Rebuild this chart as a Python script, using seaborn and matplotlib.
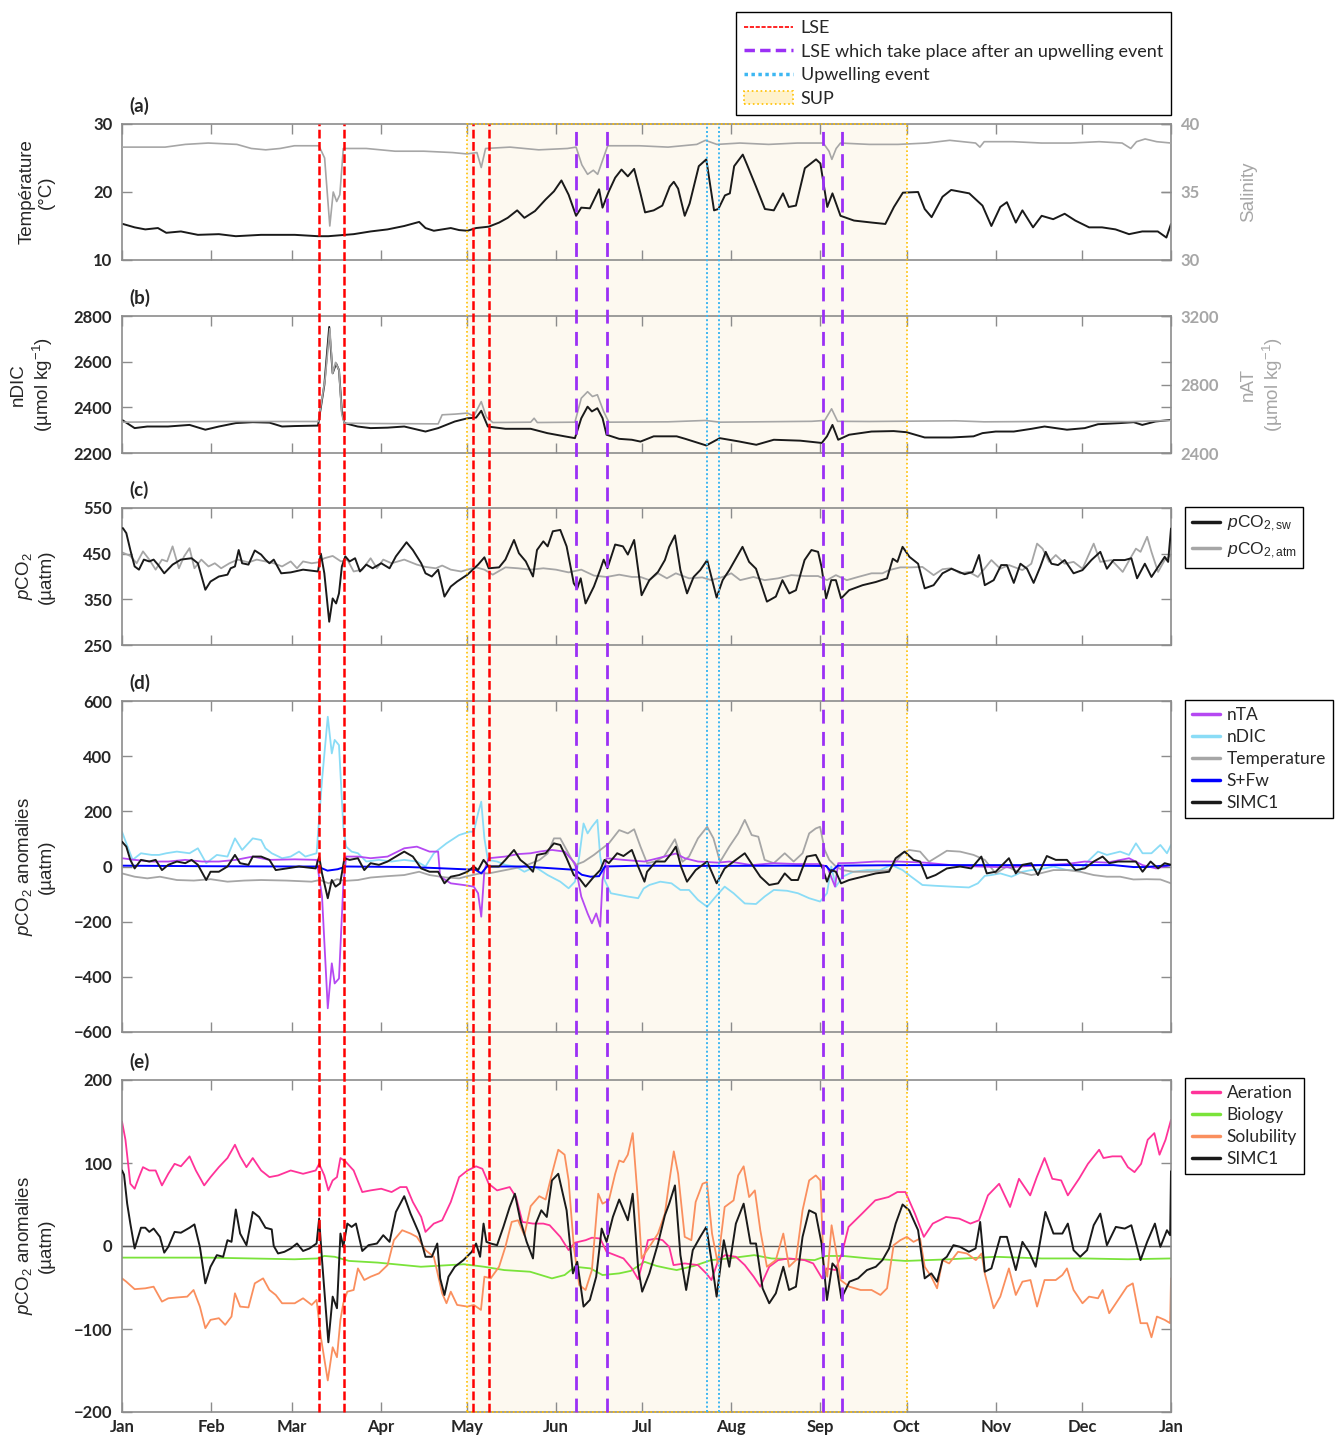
import matplotlib
matplotlib.use("Agg")
import matplotlib.pyplot as plt
import matplotlib.transforms as mtransforms
from matplotlib.lines import Line2D
from matplotlib.patches import Rectangle, Patch
import seaborn as sns

# ---- time axis (day of year) ----
MONTH_DAYS = [0, 31, 59, 90, 120, 151, 181, 212, 243, 273, 304, 334, 365]
MONTH_LABELS = ["Jan", "Feb", "Mar", "Apr", "May", "Jun", "Jul", "Aug", "Sep", "Oct", "Nov", "Dec", "Jan"]

LSE_DAYS = [68.6, 77.3, 122.3, 127.8]
LSE_AFTER_UPW_DAYS = [158.1, 168.6, 243.8, 250.4]
UPWELLING_DAYS = [203.4, 207.6]
SUP_DAYS = [120.2, 273.1]

# ---- (a) temperature (degC) and salinity ----
TEMP_A = [(0.3, 15.3), (4.4, 14.8), (8.1, 14.5), (12.5, 14.7), (15.4, 14.0), (20.5, 14.2), (26.4, 13.7),
          (33.7, 13.8), (39.6, 13.5), (48.4, 13.7), (60.1, 13.7), (68.2, 13.5), (71.8, 13.5), (80.6, 13.8),
          (86.5, 14.2), (92.4, 14.5), (98.2, 15.0), (103.4, 15.6), (105.6, 14.7), (108.5, 14.3), (114.4, 14.7),
          (117.3, 14.4), (120.2, 14.3), (123.2, 14.7), (127.6, 14.9), (131.2, 15.5), (134.2, 16.2), (137.5, 17.3),
          (140, 16.2), (143.7, 17.2), (147.4, 18.9), (150.3, 20.1), (152.9, 21.7), (155.4, 19.6), (158, 16.5),
          (159.8, 17.7), (162.8, 17.6), (166, 20.4), (167.2, 17.7), (169.4, 20.1), (171.6, 22.1), (173.8, 23.3),
          (176, 22.3), (178.2, 23.4), (180.4, 19.8), (182, 17.0), (185, 17.3), (188, 18.0), (190.6, 20.8),
          (192, 21.5), (193.5, 20.5), (195.8, 16.5), (197.5, 18.3), (200.7, 23.8), (203.3, 24.8), (206, 17.3),
          (207.5, 17.5), (209.8, 19.5), (211.5, 19.8), (213, 23.8), (216, 25.5), (217.5, 24.0), (220.6, 20.8),
          (223.7, 17.5), (226.8, 17.3), (230, 19.8), (232, 17.8), (234.5, 18.0), (237.6, 23.5), (241.5, 24.8),
          (243, 24.2), (245.4, 17.8), (247.2, 19.8), (250, 16.5), (254.7, 15.8), (261, 15.5), (265.6, 15.3),
          (268.6, 17.8), (271.7, 19.9), (277, 20.0), (279.3, 17.5), (281.7, 16.3), (285.5, 19.3), (288.5, 20.3),
          (294.8, 19.8), (299.4, 18.0), (302.5, 15.0), (305.6, 17.8), (307.9, 18.5), (311, 15.5), (313.3, 17.3),
          (317, 14.8), (320, 16.5), (324, 16.0), (328, 16.8), (331.7, 15.8), (336.5, 14.8), (341, 14.8),
          (345.7, 14.5), (350.4, 13.8), (355, 14.2), (360.4, 14.2), (363.4, 13.3), (365, 15.3)]
SAL_A = [(0, 38.3), (15, 38.3), (22, 38.5), (30, 38.6), (40, 38.5), (45, 38.2), (50, 38.1), (55, 38.2),
         (60, 38.4), (68.5, 38.4), (70.5, 37.5), (72.3, 32.5), (73.5, 35.0), (74.7, 34.3), (75.8, 34.8),
         (77, 38.2), (85, 38.2), (95, 38.0), (105, 38.0), (115, 37.9), (120, 37.8), (123.5, 37.9), (125, 36.8),
         (126.5, 38.2), (135, 38.3), (145, 38.1), (155, 38.2), (158, 38.3), (160, 37.0), (162, 36.3),
         (164, 36.6), (165.5, 36.3), (167.5, 37.5), (169, 38.4), (180, 38.4), (190, 38.3), (200, 38.5),
         (203, 38.8), (207, 38.5), (215, 38.6), (225, 38.5), (235, 38.6), (244, 38.6), (246, 38.0), (247, 37.4),
         (248.5, 38.2), (250, 38.6), (260, 38.5), (270, 38.5), (280, 38.6), (288, 38.8), (297, 38.6),
         (298.5, 38.3), (300, 38.7), (310, 38.7), (320, 38.6), (330, 38.6), (340, 38.7), (348, 38.6),
         (351, 38.2), (353, 38.7), (356, 38.9), (360, 38.7), (365, 38.6)]

# ---- (b) nDIC and nAT (umol/kg) ----
NDIC_B = [(0, 2345), (4.4, 2309), (8.8, 2316), (16, 2316), (23.5, 2323), (29, 2302), (33.7, 2316), (39.6, 2331),
          (45.5, 2335), (51.3, 2333), (55.7, 2316), (60, 2318), (68.2, 2320), (70.4, 2498), (72.1, 2752),
          (73.3, 2549), (74.5, 2592), (75.5, 2563), (76.5, 2382), (77.4, 2331), (82, 2316), (86.5, 2309),
          (92.4, 2311), (98.2, 2316), (105.6, 2294), (110, 2309), (115.8, 2338), (120.2, 2352), (123.2, 2355),
          (125, 2385), (127.3, 2316), (133.4, 2306), (142.2, 2306), (148, 2287), (154, 2273), (157.6, 2265),
          (159.8, 2352), (162, 2403), (163.5, 2382), (165.4, 2396), (167.2, 2353), (168.6, 2280), (173, 2262),
          (177.4, 2258), (180.4, 2250), (185, 2273), (193, 2273), (196, 2262), (203.3, 2233), (208, 2265),
          (214.5, 2251), (220.7, 2236), (226.8, 2258), (236, 2254), (243.5, 2244), (245.3, 2273), (247.2, 2323),
          (249.2, 2258), (253, 2280), (260.8, 2294), (268.5, 2296), (273, 2291), (279.3, 2268), (288.6, 2268),
          (296.3, 2273), (299.4, 2287), (304, 2294), (310.3, 2294), (316.5, 2306), (321, 2316), (328.8, 2302),
          (335, 2309), (339.6, 2326), (347.3, 2331), (352, 2335), (355, 2323), (359.6, 2338), (365, 2345)]
NAT_B = [(0, 2580), (30, 2584), (68.3, 2584), (70.7, 2836), (72.3, 3126), (73.3, 2865), (74.3, 2929),
         (75.5, 2884), (76.5, 2623), (77.4, 2574), (90, 2572), (110, 2570), (111.4, 2623), (115.8, 2627),
         (120.2, 2633), (122.4, 2615), (125, 2700), (126.8, 2610), (129, 2578), (142.2, 2580), (143.4, 2603),
         (144.5, 2578), (157.6, 2580), (159.8, 2720), (162, 2758), (163.7, 2730), (165.4, 2740), (167.6, 2642),
         (169.4, 2580), (190, 2582), (203, 2590), (208, 2580), (240, 2585), (244.5, 2590), (246.9, 2658),
         (249, 2585), (260, 2584), (290, 2588), (300, 2582), (330, 2585), (350, 2583), (365, 2590)]

# ---- (c) pCO2 (uatm) ----
PCO2_SW = [(0.3, 506), (1.5, 495), (2.9, 458), (4.4, 422), (5.9, 415), (7.6, 437), (9.5, 433), (11, 437),
           (12.5, 426), (14.7, 407), (17.6, 426), (20.5, 437), (24.2, 440), (26.4, 429), (29, 371), (30.8, 389),
           (33.7, 400), (36.7, 404), (37.8, 418), (39.3, 422), (40.6, 458), (41.8, 429), (44, 426), (46.2, 457),
           (48.4, 448), (49.9, 437), (51.3, 429), (52.8, 437), (55.4, 407), (58.7, 409), (63, 415), (68.2, 411),
           (69.2, 450), (70.4, 407), (72.1, 301), (73.3, 352), (74.5, 341), (75.5, 363), (76.5, 422), (77.7, 444),
           (79.2, 433), (81.1, 440), (82.8, 411), (85, 426), (87.2, 418), (90.2, 429), (93.1, 418), (95.3, 444),
           (99, 475), (101.2, 458), (104.1, 429), (105.6, 407), (107.8, 400), (110, 415), (112.2, 356),
           (114.4, 378), (116.6, 389), (120.2, 404), (123.9, 426), (126.1, 442), (127.6, 418), (131.2, 420),
           (133.4, 437), (136.4, 480), (138.1, 451), (140.5, 433), (143, 400), (144.4, 458), (146.6, 477),
           (148.1, 466), (149.9, 499), (152.5, 502), (154.7, 466), (157.2, 385), (158.4, 374), (159.6, 396),
           (161.3, 341), (164.2, 378), (166.4, 415), (167.6, 437), (168.9, 418), (171.6, 470), (174.3, 466),
           (176, 448), (178.2, 480), (180.8, 359), (183.5, 392), (186.5, 410), (188.9, 436), (190.4, 465),
           (192.4, 490), (194.3, 414), (196.6, 363), (198.9, 399), (201.2, 414), (203.6, 436), (206.9, 354),
           (209, 392), (211.3, 414), (215.9, 465), (218.2, 432), (220.6, 417), (224.4, 345), (227.5, 356),
           (229.8, 392), (232.2, 363), (234.5, 370), (237.5, 436), (239.9, 458), (242.2, 454), (243.4, 421),
           (245, 352), (246.8, 392), (248.4, 392), (250.2, 352), (253, 370), (257.7, 381), (262.3, 388),
           (266.2, 396), (268.2, 439), (269.8, 432), (271.6, 465), (274, 443), (277, 428), (279.3, 374),
           (282.4, 381), (285.5, 407), (288.6, 417), (293.2, 405), (296, 410), (298.2, 447), (300.2, 381),
           (303.3, 392), (305.9, 425), (307.9, 425), (310.3, 386), (312.6, 428), (314.9, 417), (317.2, 386),
           (319.5, 421), (321.4, 454), (323.4, 428), (325.7, 425), (328, 436), (331.1, 407), (334.2, 414),
           (337.3, 436), (340.4, 454), (342.7, 417), (345, 436), (348.9, 436), (351.2, 440), (353.2, 396),
           (355.9, 428), (358.2, 399), (360.5, 421), (362.8, 443), (364, 432), (365, 505)]
PCO2_ATM = [(0, 453), (2.9, 445), (5.1, 429), (7.3, 455), (9.5, 437), (11.7, 415), (13.9, 437), (15.7, 433),
            (17.6, 466), (19.8, 418), (21.6, 444), (23.5, 462), (25.2, 418), (27.6, 437), (30.1, 422),
            (32.3, 429), (34.5, 418), (37.4, 429), (40.3, 437), (44, 431), (46.9, 437), (49.9, 433), (52.8, 429),
            (55.7, 422), (58.7, 433), (60.9, 418), (63, 433), (66, 429), (68.2, 431), (70.4, 440), (73.3, 445),
            (76.2, 433), (78.4, 437), (80.6, 411), (83.6, 415), (86.5, 440), (88.7, 418), (90.9, 437),
            (93.8, 429), (98.2, 437), (102.6, 426), (105.6, 421), (109.2, 418), (111.4, 424), (114.4, 415),
            (118, 411), (120.2, 415), (123.2, 420), (126.1, 415), (129, 404), (133.4, 420), (137.8, 418),
            (142.2, 415), (146.6, 418), (151, 415), (155.4, 409), (159.8, 415), (164.2, 402), (168.6, 399),
            (173, 404), (177.4, 399), (180.4, 399), (183.5, 392), (186.5, 407), (189.6, 396), (192.7, 407),
            (197.3, 396), (201.9, 398), (205, 392), (209, 399), (212, 407), (215.1, 392), (219.7, 399),
            (223.6, 392), (228.3, 396), (232.9, 403), (237.5, 401), (242.2, 401), (245.3, 392), (248.4, 403),
            (252.2, 392), (256.1, 399), (260.8, 407), (264.6, 407), (266.9, 414), (270.8, 420), (274.6, 420),
            (278.5, 421), (282.4, 403), (285.5, 416), (288.6, 418), (291.6, 407), (294.7, 410), (297.8, 399),
            (302.5, 436), (305.6, 417), (308.6, 425), (313.3, 414), (316.4, 428), (318.4, 472), (320.3, 461),
            (322.6, 432), (324.9, 447), (328, 428), (331.1, 432), (334.2, 417), (338.1, 472), (340.4, 432),
            (344.3, 436), (348.2, 410), (350.5, 436), (352.8, 461), (354.4, 454), (356.7, 487), (358.2, 454),
            (360.5, 410), (362.8, 436), (365, 447)]

# ---- (d) pCO2 anomalies (uatm) ----
D_NDIC = [(0, 126), (1.5, 84), (3.7, 24), (6.6, 48), (10.3, 42), (12.9, 42), (15.4, 48), (19.1, 54), (23.5, 48),
          (26.4, 66), (29.3, 12), (33, 42), (36.7, 36), (39.3, 102), (41.8, 60), (45.5, 102), (48.4, 96),
          (49.9, 66), (52.1, 48), (55.7, 30), (58.7, 36), (61.6, 54), (63.8, 36), (67.7, 48), (69.6, 314),
          (71.6, 543), (73, 410), (74, 459), (75.5, 440), (77, 144), (78, 72), (79.9, 54), (82.1, 48), (85, 18),
          (89.4, 24), (93.8, 18), (98.2, 24), (102.6, 18), (105.6, 0), (108.5, 48), (112.9, 84), (117.3, 114),
          (121, 126), (122.4, 126), (123.9, 193), (125, 235), (126.1, 102), (127.3, 24), (130.5, 18), (133.4, 6),
          (137.1, -1), (140, -19), (143.7, -1), (148.1, -31), (152.5, -55), (155.4, -79), (157.6, -55),
          (159.1, 36), (160.6, 156), (162, 120), (163.5, 144), (165.4, 169), (166.4, 36), (167.9, -49),
          (170.1, -97), (176, -109), (179.6, -115), (181.5, -80), (183.5, -67), (187.3, -55), (191.2, -61),
          (194.3, -85), (197.3, -85), (200.4, -121), (203.6, -146), (206.6, -109), (209.7, -73), (212.8, -97),
          (216.7, -134), (220.6, -136), (223.6, -109), (226.8, -85), (231.4, -88), (235.2, -97), (239.1, -115),
          (242.9, -127), (245.3, -97), (246.8, 0), (248.4, -73), (250.7, -37), (254.5, -19), (259.2, -13),
          (263.8, -13), (267.7, 6), (271.6, -13), (274.6, -37), (278.5, -67), (283.1, -70), (288.6, -73),
          (294.7, -76), (297.8, -61), (300.2, -34), (302.5, -31), (305.6, -25), (309.5, -37), (313.3, -19),
          (316.4, -13), (319.5, -10), (324.1, 0), (328.8, -13), (333.4, -13), (336.5, 23), (339.6, 54),
          (342.7, 42), (347.3, 54), (350.4, 42), (352.8, 84), (355.1, 48), (358.2, 48), (361.3, 78),
          (363.6, 48), (365, 78)]
D_TEMP = [(0, -25), (4.4, -37), (8.8, -43), (13.2, -37), (19.1, -49), (25, -51), (30.8, -46), (36.7, -55),
          (42.5, -51), (48.4, -49), (57.2, -51), (66, -55), (68.9, -49), (71.9, -61), (74.8, -46), (77.7, -52),
          (82.1, -49), (86.5, -40), (92.4, -35), (98.2, -31), (103.4, -19), (107, -31), (112.9, -40),
          (117.3, -43), (120.2, -35), (124.6, -25), (127.6, -25), (133.4, -13), (139.3, -1), (145.2, 23),
          (148.1, 47), (150.3, 102), (152.5, 102), (154.7, 60), (157.6, 5), (160.6, 17), (164.2, 42),
          (166.4, 60), (169.4, 84), (173, 132), (176, 120), (178.2, 135), (180.4, 72), (182.7, 12), (185.5, 18),
          (188.6, 36), (192.4, 99), (195, 17), (197.3, 36), (200.4, 102), (203.6, 144), (205.8, 102),
          (208.1, 17), (211.3, 72), (214.4, 120), (216.7, 169), (219.1, 114), (221.4, 108), (223.6, 24),
          (226.8, 12), (230.6, 48), (233.7, 18), (236.8, 48), (239.1, 120), (241.4, 138), (242.9, 144),
          (244.5, 60), (246.1, 24), (248.4, 0), (250.7, -13), (254.5, -19), (260.7, -19), (266.9, -13),
          (271.6, 48), (273.9, 60), (277.7, 54), (280.8, 17), (284.7, 42), (287, 57), (291.6, 54), (296.3, 42),
          (300.2, 24), (304, -25), (307.9, 0), (311.8, -19), (316.4, -31), (319.5, -25), (324.1, -13),
          (328.8, -13), (333.4, -19), (338.1, -31), (342.7, -37), (347.3, -37), (351.9, -47), (356.5, -46),
          (361.3, -47), (365, -61)]
D_NTA = [(0, 30), (4.4, 24), (10.3, 18), (16.1, 18), (22, 24), (27.9, 18), (33.7, 18), (39.6, 24), (45.5, 36),
         (51.3, 24), (60.1, 26), (67.7, 24), (69.6, -109), (71.6, -514), (73, -351), (74, -424), (75.5, -406),
         (77, -68), (78, 36), (82.1, 36), (86.5, 30), (92.4, 36), (98.2, 66), (102.6, 72), (107, 54), (110, 54),
         (110.7, -37), (114.4, -61), (118.8, -67), (122.4, -73), (123.9, -97), (125, -182), (126.1, -13),
         (127.6, 30), (133.4, 36), (137.8, 45), (142.2, 48), (145.2, 54), (149.6, 60), (154, 54), (157.6, 12),
         (159.8, -109), (162, -170), (163.5, -206), (165, -170), (166.4, -218), (167.2, -49), (168.6, 30),
         (174.5, 24), (181.8, 18), (186.5, 30), (192.7, 47), (195.8, 30), (200.4, 18), (207.4, 14), (211.3, 18),
         (219.1, 5), (226.8, 12), (234.5, 9), (242.2, 9), (245.3, 0), (248.1, -73), (249.2, 12), (254.5, 13),
         (262.3, 18), (270, 18), (279.3, 14), (288.6, 5), (297.8, 0), (308.6, -3), (319.5, 5), (328.8, 9),
         (335, 18), (342.7, 14), (350.4, 30), (355.1, 5), (359.8, -7), (365, 5)]
D_SFW = [(0, 3), (30, 1), (60, 0), (68, 0), (71.5, -15), (75, -10), (78, 0), (100, -2), (110, -6), (119, -10),
         (123, -12), (125, -25), (127, 0), (140, 0), (157.6, -12), (160, -30), (163, -37), (166, -35), (168, 0),
         (180, 3), (200, 2), (230, 3), (245, 2), (246.8, -19), (249, 3), (270, 5), (300, 5), (330, 5), (345, 5),
         (352, -2), (356, -2), (365, 5)]
D_SIMC1 = [(0, 90), (1.5, 72), (2.9, 24), (4.4, -7), (6.6, 24), (9.5, 18), (11.7, 24), (13.9, -13), (16.1, 6),
           (19.1, 18), (22, 12), (24.2, 24), (26.4, 6), (29.3, -49), (30.8, -19), (33.7, -19), (36.7, 0),
           (39.3, 42), (41.1, 12), (44, 6), (45.5, 36), (48.4, 36), (51.3, 24), (53.5, -13), (57.2, -7),
           (61.6, 0), (67.4, -7), (68.6, 36), (69.6, -25), (71.6, -115), (73, -49), (74.3, -73), (75.9, -61),
           (77.4, 30), (79.2, 24), (82.1, 30), (84.3, -13), (86.5, 12), (89.4, 6), (92.4, 18), (95.3, 36),
           (98.2, 54), (101.2, 36), (104.1, -7), (107, -19), (110, -19), (112.2, -61), (114.4, -37),
           (117.3, -31), (120.2, -19), (122.4, 0), (123.9, -13), (125.8, 24), (127.6, 0), (131.2, 0),
           (133.4, 24), (136.4, 60), (138.6, 24), (140.8, 6), (143, -19), (144.4, 42), (147.4, 48), (150.3, 84),
           (152.5, 78), (154.7, 30), (157.2, -31), (159.1, -43), (161.3, -73), (164.2, -37), (166.4, -13),
           (167.9, 24), (169.4, 12), (172.3, 48), (174.5, 38), (177.4, 60), (179.6, 0), (181.8, -55),
           (182.7, -19), (185.8, 18), (188.9, 18), (191.2, 48), (192.7, 72), (194.5, 0), (196.6, -55),
           (199.6, -13), (203.6, 18), (206.9, -61), (209.7, -7), (212.8, 18), (216.7, 48), (219.7, 0),
           (222.1, -37), (225.2, -67), (228.3, -61), (230.6, -25), (232.9, -49), (235.2, -49), (238.3, 36),
           (241.4, 42), (243.8, -7), (245.3, -55), (246.8, -13), (248.4, -19), (250.2, -61), (253, -49),
           (257.7, -37), (262.3, -25), (266.9, -19), (269.2, 30), (272.3, 54), (275.4, 24), (277.7, 18),
           (280.1, -43), (283.1, -31), (287, -7), (291.6, 0), (295.5, -7), (299, 36), (300.9, -25), (304, -19),
           (308.6, 30), (311, -25), (313.3, 6), (316.4, 12), (318.7, -31), (321.8, 38), (324.9, 24),
           (328.8, 24), (331.8, -13), (335, -7), (338.1, 18), (341.2, 36), (343.5, 12), (346.6, 18),
           (349.7, 18), (352.8, 18), (355.1, -19), (357.9, 18), (360.5, -7), (362.8, 12), (365, 6)]

# ---- (e) pCO2 anomalies (uatm) ----
E_AER = [(0, 150), (1.2, 128), (2.9, 75), (4.4, 69), (5.9, 83), (7.3, 95), (9.5, 91), (11.7, 91), (13.9, 73),
         (16.1, 87), (18.3, 99), (20.5, 96), (23.5, 108), (25.7, 91), (28.6, 73), (30.8, 83), (33.7, 95),
         (36.7, 106), (39.3, 122), (41.1, 108), (43.3, 95), (45.5, 106), (48.4, 91), (51.3, 83), (54.3, 85),
         (58.7, 91), (63, 87), (67.4, 91), (68.6, 99), (70.4, 85), (71.8, 67), (73.3, 79), (74.8, 83),
         (76, 106), (77.7, 102), (80.6, 91), (83.6, 65), (86.5, 67), (90.2, 69), (93.8, 65), (96.8, 71),
         (99, 71), (101.2, 53), (104.1, 35), (105.6, 17), (108.5, 27), (111.4, 31), (114.4, 53), (117.3, 83),
         (120.2, 91), (123.2, 96), (125.4, 93), (127.6, 75), (130.5, 67), (134.9, 71), (137.1, 59),
         (139.3, 29), (143, 27), (146.6, 27), (148.8, 25), (152.5, 11), (155.4, -5), (157.6, 4), (161.3, 7),
         (163.5, 10), (166.4, 9), (168.6, -7), (171.6, -11), (174.5, -15), (177.4, -27), (179.6, -40),
         (181.5, -15), (183, 7), (185.8, 9), (188.1, 7), (190.4, -1), (191.9, -23), (195.8, -21), (200.4, -23),
         (203.3, -33), (205.1, -41), (207.5, -17), (209.8, -11), (213.6, -13), (216.7, -23), (219.8, -37),
         (222.1, -49), (225.2, -25), (228.3, -17), (232.1, -15), (237.5, -17), (240.5, -21), (243.6, -39),
         (245.2, -27), (248.2, -29), (250.5, -9), (252.8, 23), (257.5, 39), (262.1, 55), (266.7, 59),
         (269.8, 65), (272.6, 65), (275.9, 39), (279, 11), (282.1, 27), (286.7, 35), (291.3, 33), (295.2, 27),
         (298.2, 31), (301.3, 61), (305.2, 75), (309, 47), (312.1, 81), (316, 61), (318.3, 83), (321, 106),
         (323.7, 81), (326.8, 79), (329.1, 61), (333, 81), (336.1, 99), (340, 116), (341.5, 106),
         (344.6, 108), (347.7, 108), (350, 95), (352.3, 89), (354.6, 99), (356.9, 128), (359.2, 136),
         (361, 110), (363.1, 128), (365, 152)]
E_BIO = [(0, -14), (30, -14), (60, -16), (68, -15), (70.4, -12), (74, -13), (79, -18), (89, -20), (104, -25),
         (119, -22), (126, -25), (133, -29), (142, -31), (149.6, -39), (154, -35), (157.6, -25), (163, -27),
         (167.2, -35), (173, -33), (177, -30), (181.8, -19), (186, -24), (190, -27), (193, -29), (199, -24),
         (205, -17), (211, -15), (220, -11), (226, -15), (235, -16), (241, -17), (245, -12), (251, -12),
         (260, -15), (272.6, -18), (288, -16), (304, -13), (320, -15), (335, -15), (350, -16), (365, -15)]
E_SOL = [(0, -39), (1.5, -43), (4.4, -52), (8.1, -51), (11, -49), (13.9, -67), (16.1, -63), (19.1, -62),
         (22.7, -61), (24.9, -53), (27.1, -73), (29, -99), (30.8, -89), (33.7, -87), (35.9, -95), (38.1, -85),
         (39.3, -57), (41.1, -73), (44, -74), (46.2, -45), (49.1, -39), (51.3, -53), (53.5, -59), (55.7, -69),
         (60.1, -69), (63, -63), (66, -71), (67.7, -65), (69.2, -110), (71.6, -162), (73.3, -122),
         (74.8, -134), (76, -89), (77, -69), (78.4, -55), (80.6, -53), (82.1, -27), (84.3, -41), (86.5, -37),
         (89.4, -33), (92.4, -23), (94.6, 7), (97.5, 19), (100.4, 15), (102.6, 11), (105.6, -5), (108.5, -13),
         (111.4, -57), (112.9, -69), (114.4, -55), (116.6, -71), (120.2, -73), (122.4, -71), (124.9, -77),
         (126.1, -37), (128.3, -39), (131.2, -25), (133.4, -1), (135.6, 29), (137.8, 31), (140, 13),
         (142.2, 48), (145.2, 60), (147.4, 56), (149.6, 87), (151.8, 116), (154, 110), (155.4, 79),
         (157.2, -1), (159.1, -47), (161.3, -53), (163.5, -29), (165.7, 63), (167.2, 51), (169.4, 55),
         (171.6, 87), (173, 103), (174.5, 101), (176, 110), (177.7, 136), (179.6, 51), (180.8, -15),
         (183.5, -1), (186.5, 15), (188.9, 39), (190.4, 77), (192, 114), (193.5, 87), (195.8, 11), (198.1, 7),
         (199.6, 53), (202, 75), (203.5, 77), (205.3, 15), (207.3, -21), (209.7, 47), (212.8, 55), (214.4, 85),
         (216.3, 96), (218.2, 59), (220.2, 67), (222.1, 19), (224.4, -25), (227.5, -17), (230.1, 15),
         (232.1, -25), (234.5, -17), (236.8, 43), (239.1, 79), (241.4, 85), (243, 79), (244.1, -21),
         (245.4, -37), (246.9, 25), (248.5, -7), (250, -41), (253.1, -49), (257, -53), (260.8, -53),
         (263.9, -59), (266.2, -51), (268.5, 1), (270.8, 7), (273.1, 11), (275.4, 5), (277.7, 9), (279.3, -25),
         (281.6, -37), (283.6, -51), (285.5, -17), (287.8, -21), (290.9, -7), (294, -9), (297.1, -17),
         (299.1, -9), (300.2, -33), (303.3, -75), (305.6, -61), (308.6, -27), (311, -59), (313.3, -43),
         (316.1, -41), (318.4, -73), (321, -41), (324.9, -41), (327.2, -35), (328.8, -27), (331.1, -53),
         (334.2, -69), (336.5, -61), (339.6, -63), (341.2, -53), (343.5, -81), (346.6, -65), (349.7, -49),
         (351.7, -45), (354.4, -93), (356.7, -93), (358.2, -110), (360.1, -85), (362.8, -89), (364.7, -93),
         (365, -39)]
E_SIMC1 = [(0, 91), (0.7, 86), (1.8, 51), (2.9, 27), (4.4, -3), (6.6, 22), (8.1, 22), (9.5, 17), (11, 21),
           (13.2, 11), (14.7, -8), (16.1, -1), (18.3, 17), (20.5, 16), (23.5, 22), (25.2, 26), (27.1, -1),
           (29, -45), (30.8, -25), (33, -11), (35.2, -13), (36.7, 7), (38.1, 5), (39.6, 44), (41.1, 15),
           (43.3, 1), (45.5, 41), (47.7, 35), (49.9, 22), (52.1, 20), (52.8, 0), (54.3, -9), (56.5, -7),
           (58.7, -3), (60.9, 3), (63, -6), (65.2, -3), (67.7, 3), (68.6, 33), (69.6, -17), (71.8, -116),
           (73.3, -61), (74.8, -75), (76, 15), (77, -1), (78.4, 27), (79.9, 23), (81.4, 27), (83.6, -6),
           (85.8, 1), (88.7, 3), (90.9, 13), (93.1, 5), (95.3, 41), (98.2, 60), (100.4, 39), (103.4, 15),
           (105.6, -13), (107.8, -13), (109.7, 3), (110.7, -39), (112.2, -59), (113.6, -37), (115.8, -25),
           (118.8, -17), (121.7, -7), (123.2, 3), (124.6, -13), (125.8, 27), (126.8, 5), (128.3, 3), (130.5, 1),
           (132.7, 23), (134.9, 47), (136.7, 63), (138.6, 31), (140.8, 5), (143, -15), (144, 27), (145.9, 43),
           (147.8, 35), (149.6, 79), (151.8, 87), (154.7, 43), (156.9, -33), (158.4, -19), (160.6, -73),
           (162.8, -65), (165, -37), (166.9, 21), (168.6, 5), (170.8, 35), (173, 56), (176, 31), (177.7, 63),
           (179.6, -27), (181, -55), (183.5, -33), (186.5, 3), (188.9, 37), (190.4, 51), (192.4, 73),
           (194.3, -11), (196.3, -53), (198.6, -5), (201.2, 11), (203.3, 23), (205.1, -17), (206.9, -61),
           (209.4, 7), (211.3, -25), (213.6, 27), (216.3, 51), (218.7, 3), (220.6, 3), (222.9, -51),
           (225.2, -69), (227.5, -57), (230.1, -25), (232.1, -53), (234.5, -49), (236.8, 11), (239.1, 43),
           (241.4, 39), (243.4, 3), (245.3, -65), (247.2, -21), (248.7, -27), (250.3, -63), (253.1, -43),
           (256.1, -39), (259.2, -29), (262.3, -25), (264.6, -17), (266.9, -3), (269.2, 27), (271.6, 50),
           (273.9, 43), (277, 19), (279.3, -39), (281.6, -33), (283.6, -43), (285.5, -17), (287, -13),
           (289.3, 1), (291.6, -1), (294.7, -7), (297, -3), (298.6, 29), (300.2, -31), (302.5, -27),
           (305.6, 11), (307.9, 11), (311, -29), (313.3, 5), (315.6, -7), (317.9, -25), (321.3, 41),
           (324.1, 15), (327.2, 15), (329.1, 27), (331.1, -5), (333.4, -13), (335.8, -5), (338.1, 25),
           (340.4, 39), (342.7, 1), (345.8, 23), (348.9, 21), (351.2, 25), (354.4, -17), (356.7, 5),
           (359.4, 27), (361.3, -1), (363.6, 19), (364.7, 13), (365, 90)]

# ---- house colours ----
SPINE = "#8C8C8C"
GREY = "#A6A6A6"
C = {"black": "#1a1a1a", "nta": "#B548F2", "ndic": "#8ADCF6", "temp": "#A6A6A6", "sfw": "#0000FF",
     "aer": "#FF3399", "bio": "#7AE33A", "sol": "#FA8F5E",
     "lse": "#FF0000", "lse_up": "#9B30F5", "upw": "#3DB7F2", "sup": "#FFC000", "sup_fill": "#FDF9F0"}

sns.set_theme(style="white")
plt.rcParams["font.family"] = ["Lato", "DejaVu Sans"]
plt.rcParams["mathtext.fontset"] = "custom"
plt.rcParams["mathtext.rm"] = "Liberation Sans"
plt.rcParams["mathtext.it"] = "Liberation Sans:italic"
LABEL_FONT = ["Liberation Sans", "DejaVu Sans"]
TICK_SIZE = 12


def draw(ax, series, color, lw=1.3, z=2):
    x, y = zip(*series)
    sns.lineplot(x=list(x), y=list(y), ax=ax, color=color, lw=lw, estimator=None, legend=False, zorder=z)


def style(ax, ylim, yticks, months=False):
    ax.set_xlim(0, 365)
    ax.set_ylim(*ylim)
    ax.set_yticks(yticks)
    ax.set_xticks(MONTH_DAYS)
    ax.set_xticklabels(MONTH_LABELS if months else [])
    ax.set_facecolor("none")
    for s in ax.spines.values():
        s.set_color(SPINE); s.set_linewidth(1.2)
    ax.tick_params(axis="x", direction="in", top=True, bottom=True, length=7, width=1, color=SPINE,
                   pad=5, labelsize=TICK_SIZE)
    ax.tick_params(axis="y", direction="in", left=True, right=True, length=7, width=1, color=SPINE,
                   pad=7, labelsize=TICK_SIZE)
    for t in ax.get_yticklabels() + ax.get_xticklabels():
        t.set_fontweight("bold")
    ax.set_xlabel("")


def left_label(ax, text):
    ax.set_ylabel(text, fontsize=13.5, family=LABEL_FONT, linespacing=1.2)
    ax.yaxis.set_label_coords(-0.064, 0.5)


def right_axis(ax, ylim, yticks, text):
    tw = ax.twinx()
    tw.set_ylim(*ylim)
    tw.set_yticks(yticks)
    tw.set_facecolor("none")
    for s in tw.spines.values():
        s.set_visible(False)
    tw.tick_params(axis="y", direction="in", right=True, length=7, width=1, color=SPINE, pad=7,
                   labelsize=TICK_SIZE, labelcolor=GREY)
    for t in tw.get_yticklabels():
        t.set_fontweight("bold")
    tw.set_ylabel(text, fontsize=13.5, family=LABEL_FONT, color=GREY, linespacing=1.2)
    tw.yaxis.set_label_coords(1.066, 0.5)
    return tw


W, H = 1335, 1438
fig = plt.figure(figsize=(W / 100, H / 100), dpi=100)
L, WD = 122 / W, 1049 / W
rows = {"a": (124, 260), "b": (316, 453), "c": (508, 645), "d": (701, 1032), "e": (1080, 1412)}
axs = {k: fig.add_axes([L, 1 - b / H, WD, (b - t) / H]) for k, (t, b) in rows.items()}

# (a)
ax = axs["a"]
tw = right_axis(ax, (30, 40), [30, 35, 40], "Salinity")
draw(tw, SAL_A, GREY, lw=1.2)
draw(ax, TEMP_A, C["black"], lw=1.4)
style(ax, (10, 30), [10, 20, 30])
left_label(ax, "Température\n(°C)")

# (b)
ax = axs["b"]
tw = right_axis(ax, (2400, 3200), [2400, 2800, 3200], "nAT\n(µmol kg$^{-1}$)")
draw(tw, NAT_B, GREY, lw=1.2)
draw(ax, NDIC_B, C["black"], lw=1.4)
style(ax, (2200, 2800), [2200, 2400, 2600, 2800])
left_label(ax, "nDIC\n(µmol kg$^{-1}$)")

# (c)
ax = axs["c"]
draw(ax, PCO2_ATM, GREY, lw=1.3)
draw(ax, PCO2_SW, C["black"], lw=1.4, z=3)
style(ax, (250, 550), [250, 350, 450, 550])
left_label(ax, "$p$CO$_2$\n(µatm)")

# (d)
ax = axs["d"]
draw(ax, D_NDIC, C["ndic"], lw=1.3)
draw(ax, D_TEMP, C["temp"], lw=1.3)
draw(ax, D_NTA, C["nta"], lw=1.3)
draw(ax, D_SFW, C["sfw"], lw=1.4)
draw(ax, D_SIMC1, C["black"], lw=1.4, z=3)
style(ax, (-600, 600), list(range(-600, 601, 200)))
left_label(ax, "$p$CO$_2$ anomalies\n(µatm)")

# (e)
ax = axs["e"]
ax.axhline(0, color="#595959", lw=1, zorder=1.5)
draw(ax, E_BIO, C["bio"], lw=1.3)
draw(ax, E_AER, C["aer"], lw=1.3)
draw(ax, E_SOL, C["sol"], lw=1.3)
draw(ax, E_SIMC1, C["black"], lw=1.4, z=3)
style(ax, (-200, 200), [-200, -100, 0, 100, 200], months=True)
left_label(ax, "$p$CO$_2$ anomalies\n(µatm)")

for k in rows:
    fig.text(129 / W, 1 - (rows[k][0] - 18) / H, f"({k})", fontsize=13.5, fontweight="bold",
             ha="left", va="center")

# event lines and SUP box run through every panel
y_top, y_bot = 1 - 124 / H, 1 - 1412 / H
blend = mtransforms.blended_transform_factory(axs["e"].transData, fig.transFigure)
fig.add_artist(Rectangle((SUP_DAYS[0], y_bot), SUP_DAYS[1] - SUP_DAYS[0], y_top - y_bot, transform=blend,
                         facecolor=C["sup_fill"], edgecolor="none", zorder=-1))
fig.add_artist(Rectangle((SUP_DAYS[0], y_bot), SUP_DAYS[1] - SUP_DAYS[0], y_top - y_bot, transform=blend,
                         fill=False, edgecolor=C["sup"], ls=(0, (1, 1.5)), lw=1.2, zorder=4))
for d in LSE_DAYS:
    fig.add_artist(Line2D([d, d], [y_bot, y_top], transform=blend, color=C["lse"], lw=1.8,
                          ls=(0, (3.5, 1.4)), zorder=5))
for d in LSE_AFTER_UPW_DAYS:
    fig.add_artist(Line2D([d, d], [y_bot, y_top], transform=blend, color=C["lse_up"], lw=2,
                          ls=(0, (5, 3)), zorder=5))
for d in UPWELLING_DAYS:
    fig.add_artist(Line2D([d, d], [y_bot, y_top], transform=blend, color=C["upw"], lw=1.4,
                          ls=(0, (1, 1.2)), zorder=5))


def frame(leg):
    leg.get_frame().set_linewidth(1.0)
    leg.get_frame().set_edgecolor("black")


top = fig.legend([Line2D([], [], color=C["lse"], lw=1.2, ls=(0, (2.5, 1))),
                  Line2D([], [], color=C["lse_up"], lw=2.5, ls=(0, (3, 1.5))),
                  Line2D([], [], color=C["upw"], lw=2.5, ls=(0, (1, 1))),
                  Patch(facecolor="#FFF2CC", edgecolor=C["sup"], ls=":", lw=1.2)],
                 ["LSE", "LSE which take place after an upwelling event", "Upwelling event", "SUP"],
                 loc="upper right", bbox_to_anchor=(1171 / W, 1 - 12 / H), borderaxespad=0, fontsize=13,
                 fancybox=False, framealpha=1, handlelength=2.7, handletextpad=0.45, labelspacing=0.42,
                 borderpad=0.45)
frame(top)


def side_legend(items, y_px):
    leg = fig.legend([Line2D([], [], color=c, lw=2.5) for _, c in items], [n for n, _ in items],
                     loc="upper left", bbox_to_anchor=(1185 / W, 1 - y_px / H), borderaxespad=0,
                     fontsize=12.5, fancybox=False, framealpha=1, handlelength=1.6, handletextpad=0.4,
                     labelspacing=0.35, borderpad=0.4)
    frame(leg)


side_legend([(r"$p\mathrm{CO}_{2,\mathrm{sw}}$", C["black"]), (r"$p\mathrm{CO}_{2,\mathrm{atm}}$", GREY)], 507)
side_legend([("nTA", C["nta"]), ("nDIC", C["ndic"]), ("Temperature", C["temp"]), ("S+Fw", C["sfw"]),
             ("SIMC1", C["black"])], 700)
side_legend([("Aeration", C["aer"]), ("Biology", C["bio"]), ("Solubility", C["sol"]), ("SIMC1", C["black"])], 1078)

fig.savefig("out.png", dpi=100)
